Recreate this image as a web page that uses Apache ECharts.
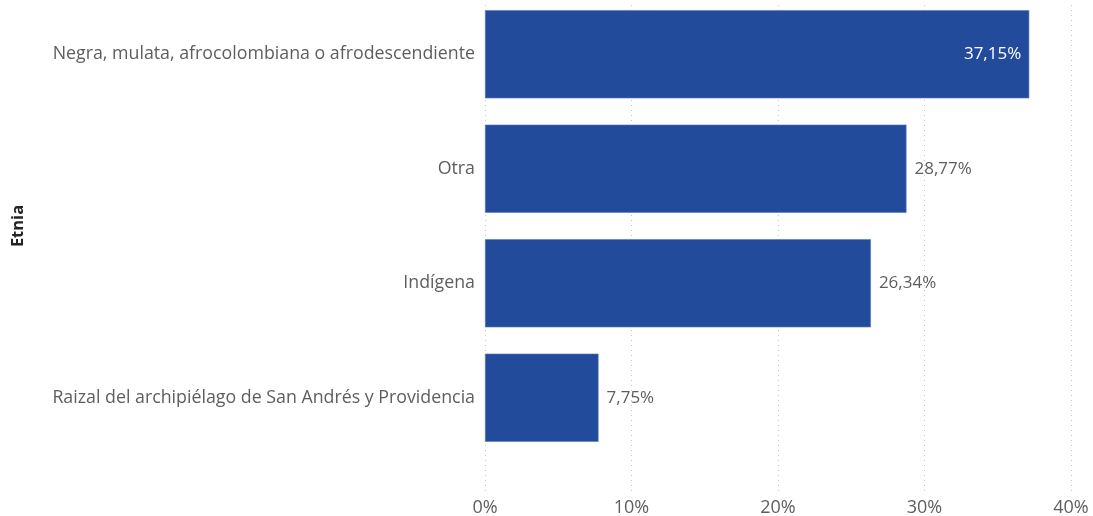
<!DOCTYPE html>
<html>
<head>
<meta charset="utf-8">
<script src="https://cdn.jsdelivr.net/npm/echarts@6/dist/echarts.min.js"></script>
<style>
  html, body { margin: 0; padding: 0; background: #fff; }
  #chart { width: 1093px; height: 516px; }
</style>
</head>
<body>
<div id="chart"></div>
<script>
var categories = [
    'Negra, mulata, afrocolombiana o afrodescendiente',
    'Otra',
    'Indígena',
    'Raizal del archipiélago de San Andrés y Providencia'
];
var values = [37.15, 28.77, 26.34, 7.75];
var xTicks = [0, 10, 20, 30, 40];

var FONT = '"Open Sans", "Noto Sans", sans-serif';
var chart = echarts.init(document.getElementById('chart'));

function fmt(v) {
    return v.toFixed(2).replace('.', ',') + '%';
}

chart.setOption({
    animation: false,
    textStyle: { fontFamily: FONT },
    grid: [
        // barras
        { left: 485, right: 22, top: -3, height: 458, outerBoundsMode: 'none' },
        // eje x y lineas de cuadricula
        { left: 485, right: 22, top: 5, bottom: 23, outerBoundsMode: 'none' }
    ],
    xAxis: [
        {
            gridIndex: 0, type: 'value', min: 0, max: 40, interval: 10,
            show: false
        },
        {
            gridIndex: 1, type: 'value',
            min: xTicks[0], max: xTicks[xTicks.length - 1], interval: 10,
            axisLine: { show: false },
            axisTick: { show: false },
            axisLabel: {
                formatter: '{value}%', color: '#605E5C', fontSize: 18, margin: 6,
                fontFamily: FONT
            },
            splitLine: { lineStyle: { type: [1, 4], color: '#C8C6C4', width: 1 } }
        }
    ],
    yAxis: [
        {
            gridIndex: 0, type: 'category', data: categories, inverse: true,
            axisLine: { show: false },
            axisTick: { show: false },
            axisLabel: { color: '#605E5C', fontSize: 17.8, margin: 10, fontFamily: FONT },
            name: 'Etnia',
            nameLocation: 'middle',
            nameGap: 458,
            nameRotate: 90,
            nameTextStyle: { color: '#252423', fontSize: 16.5, fontWeight: 'bold', fontFamily: FONT }
        },
        {
            gridIndex: 1, type: 'value', show: false
        }
    ],
    series: [{
        type: 'bar',
        xAxisIndex: 0,
        yAxisIndex: 0,
        barCategoryGap: '23%',
        itemStyle: { color: '#234B9B', borderColor: '#5A78B8', borderWidth: 0.6 },
        label: {
            show: true,
            position: 'right',
            distance: 8,
            color: '#605E5C',
            fontSize: 17,
            fontFamily: FONT,
            formatter: function (p) { return fmt(p.value); }
        },
        data: values.map(function (v, i) {
            if (i === 0) {
                return { value: v, label: { position: 'insideRight', color: '#FFFFFF', distance: 8 } };
            }
            return v;
        })
    }]
});
</script>
</body>
</html>
